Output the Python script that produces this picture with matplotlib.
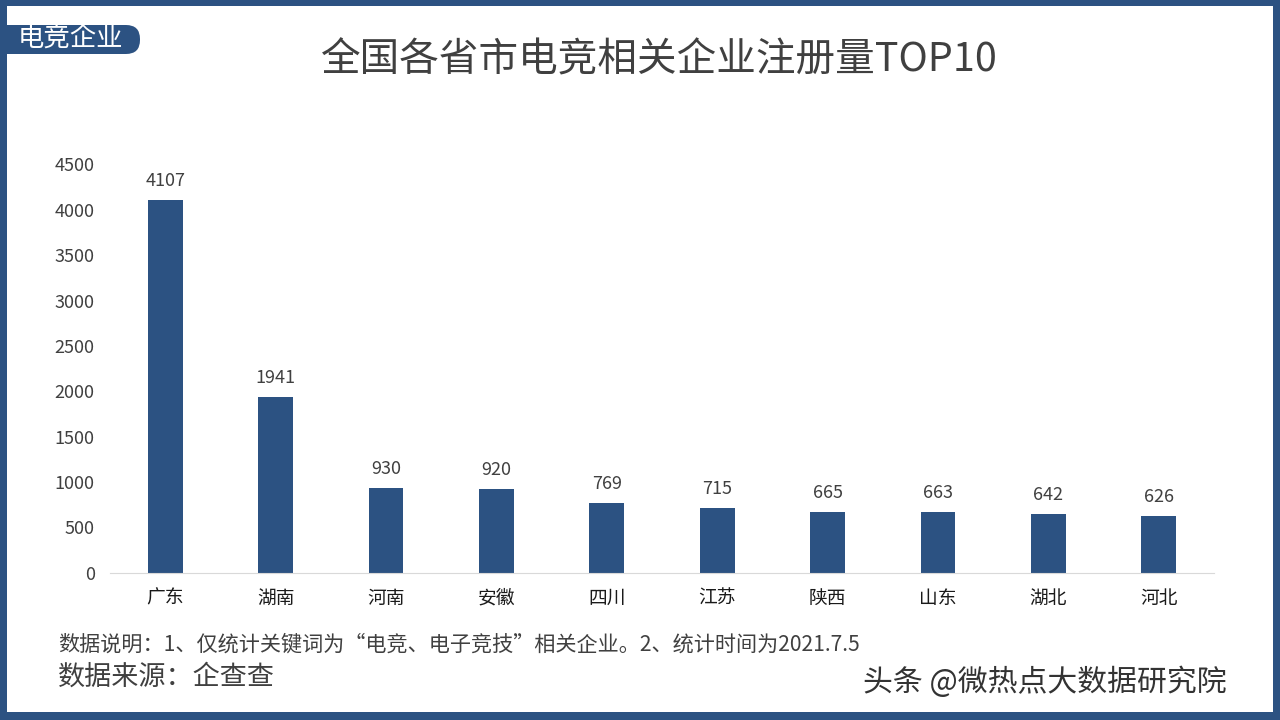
import matplotlib
matplotlib.use("Agg")
import matplotlib.pyplot as plt
import matplotlib.patches as patches

provinces = ["广东", "湖南", "河南", "安徽", "四川", "江苏", "陕西", "山东", "湖北", "河北"]
counts = [4107, 1941, 930, 920, 769, 715, 665, 663, 642, 626]
y_ticks = [0, 500, 1000, 1500, 2000, 2500, 3000, 3500, 4000, 4500]

title_text = "全国各省市电竞相关企业注册量TOP10"
tag_text = "电竞企业"
note_text = "数据说明：1、仅统计关键词为“电竞、电子竞技”相关企业。2、统计时间为2021.7.5"
source_text = "数据来源：企查查"
watermark_text = "头条 @微热点大数据研究院"

plt.rcParams['font.family'] = ['Noto Sans CJK SC', 'DejaVu Sans']

blue = "#2C5282"
W, H = 1280, 720

fig = plt.figure(figsize=(W / 100, H / 100), dpi=100, facecolor="white")

# page coordinates in pixels, y pointing down
bg = fig.add_axes([0, 0, 1, 1])
bg.set_xlim(0, W)
bg.set_ylim(H, 0)
bg.axis('off')

# frame
bg.add_patch(patches.Rectangle((0, 0), W, 6, color=blue, lw=0))
bg.add_patch(patches.Rectangle((0, 712), W, 8, color=blue, lw=0))
bg.add_patch(patches.Rectangle((0, 0), 7, H, color=blue, lw=0))
bg.add_patch(patches.Rectangle((1273, 0), 7, H, color=blue, lw=0))

# tag in the top left corner
bg.add_patch(patches.FancyBboxPatch((0, 25), 140, 29, boxstyle="round,pad=0,rounding_size=14",
                                    color=blue, lw=0))
bg.add_patch(patches.Rectangle((0, 25), 30, 29, color=blue, lw=0))
bg.text(70, 39, tag_text, color="white", fontsize=19, ha="center", va="center")

bg.text(659, 60, title_text, color="#404040", fontsize=28.5, ha="center", va="center")
bg.text(58, 645, note_text, color="#404040", fontsize=15.2, ha="left", va="center")
bg.text(58, 677, source_text, color="#404040", fontsize=19.5, ha="left", va="center")

# watermark with a white halo, as on the reference
bg.text(863, 682, watermark_text, color="#333333", fontsize=21.5, ha="left", va="center")

# bar chart
ax = fig.add_axes([110 / W, 1 - 572.5 / H, (1214 - 110) / W, (572.5 - 164.5) / H])
x = list(range(len(provinces)))
ax.bar(x, counts, width=0.315, color=blue)
ax.set_xlim(-0.5, len(provinces) - 0.5)
ax.set_ylim(0, 4500)
ax.set_xticks(x)
ax.set_xticklabels(provinces, fontsize=13.5, color="#1a1a1a")
ax.set_yticks(y_ticks)
ax.tick_params(axis='y', length=0, pad=11, labelsize=13, labelcolor="#404040")
ax.tick_params(axis='x', length=0, pad=11)
for side in ['top', 'right', 'left']:
    ax.spines[side].set_visible(False)
ax.spines['bottom'].set_color("#D9D9D9")
ax.patch.set_alpha(0)

for i, v in enumerate(counts):
    ax.annotate(str(v), (i, v), xytext=(0, 10), textcoords="offset pixels",
                ha="center", va="bottom", fontsize=13, color="#404040")

fig.savefig("out.png", dpi=100)
